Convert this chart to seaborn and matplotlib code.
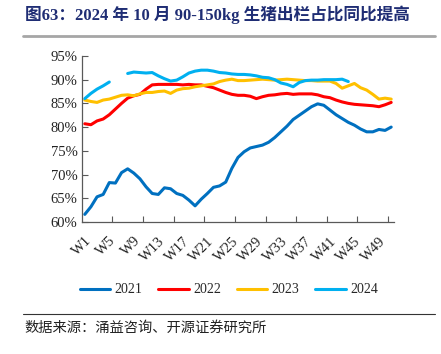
import numpy as np
import pandas as pd
import matplotlib
matplotlib.use("Agg")
import matplotlib.pyplot as plt
from matplotlib.lines import Line2D
import seaborn as sns

weeks = [f"W{i}" for i in range(1, 52)]
years = ["2021", "2022", "2023", "2024"]
colors = ["#0070C0", "#FF0000", "#FFC000", "#00B0F0"]

v2021 = [61.6, 63.2, 65.3, 65.8, 68.3, 68.2, 70.4, 71.2, 70.3, 69.1,
         67.4, 66.0, 65.8, 67.2, 67.0, 66.0, 65.6, 64.6, 63.4, 64.8,
         66.0, 67.3, 67.6, 68.4, 71.3, 73.6, 74.8, 75.6, 75.9, 76.2,
         76.8, 77.8, 79.0, 80.2, 81.6, 82.5, 83.4, 84.3, 84.9, 84.6,
         83.6, 82.6, 81.8, 81.0, 80.4, 79.6, 79.0, 79.0, 79.5, 79.3, 80.0]
v2022 = [80.7, 80.5, 81.3, 81.7, 82.6, 83.8, 85.0, 86.1, 86.6, 86.9,
         88.0, 88.9, 89.0, 89.0, 89.0, 89.0, 88.9, 89.0, 88.9, 88.9,
         88.6, 88.3, 87.8, 87.3, 86.9, 86.7, 86.7, 86.5, 86.0, 86.4,
         86.7, 86.8, 87.0, 87.1, 86.9, 87.0, 87.0, 87.0, 86.8, 86.4,
         86.2, 85.7, 85.3, 85.0, 84.8, 84.7, 84.6, 84.5, 84.3, 84.7, 85.2]
v2023 = [85.7, 85.4, 85.2, 85.7, 85.9, 86.3, 86.7, 86.8, 86.6, 87.0,
         87.3, 87.3, 87.5, 87.6, 87.1, 87.8, 88.1, 88.2, 88.5, 88.7,
         88.9, 89.1, 89.6, 89.9, 90.1, 89.8, 89.8, 89.9, 90.0, 90.1,
         90.0, 89.9, 90.0, 90.1, 90.0, 89.9, 89.8, 89.8, 89.7, 89.7,
         89.7, 89.2, 88.2, 88.7, 89.2, 88.3, 87.8, 86.9, 85.9, 86.1, 85.9]
v2024 = [86.0, 87.1, 88.0, 88.7, 89.5, np.nan, np.nan, 91.3, 91.6, 91.5,
         91.4, 91.5, 90.8, 90.2, 89.7, 89.9, 90.6, 91.4, 91.8, 92.0,
         92.0, 91.8, 91.5, 91.4, 91.2, 91.1, 91.1, 91.0, 90.8, 90.5,
         90.4, 90.0, 89.3, 89.0, 88.5, 89.4, 89.8, 89.9, 89.9, 90.0,
         90.0, 90.0, 90.1, 89.6] + [np.nan] * 7

rows = []
for yr, vals in zip(years, [v2021, v2022, v2023, v2024]):
    seg = 0
    for i, v in enumerate(vals):
        if np.isnan(v):
            seg += 1
            continue
        rows.append({"idx": i, "val": v, "year": yr, "seg": f"{yr}-{seg}"})
df = pd.DataFrame(rows)

sns.set_theme(style="white")
plt.rcParams["font.family"] = ["Liberation Serif", "Noto Sans CJK SC"]

fig = plt.figure(figsize=(4.41, 3.54), dpi=100)
ax = fig.add_axes([0.1853, 0.373, 0.894 - 0.1853, 0.842 - 0.373])

sns.lineplot(data=df, x="idx", y="val", hue="year", units="seg",
             estimator=None, palette=dict(zip(years, colors)),
             linewidth=2.2, legend=False, ax=ax, sort=True)

n = len(weeks)
ax.set_xlim(-0.5, n - 0.5)
ax.set_ylim(60, 95)
ax.set_yticks(np.arange(60, 96, 5))
ax.set_yticklabels([f"{t}%" for t in range(60, 96, 5)], fontsize=10.5,
                   color="#222222")
ax.set_xticks(np.arange(0, n, 4))
ax.set_xticklabels(weeks[::4], rotation=45, ha="right",
                   rotation_mode="anchor", fontsize=10.5, color="#222222")
ax.set_xticks(np.arange(4.5, n - 0.5, 5), minor=True)
ax.tick_params(axis="x", which="major", length=0, pad=9)
ax.tick_params(axis="x", which="minor", length=4, direction="in",
               color="#595959", width=0.8, bottom=True)
ax.tick_params(axis="y", which="major", length=4, direction="in",
               color="#595959", width=0.8, left=True, pad=3)
ax.set_xlabel("")
ax.set_ylabel("")
for s in ["top", "right"]:
    ax.spines[s].set_visible(False)
for s in ["left", "bottom"]:
    ax.spines[s].set_color("#595959")
    ax.spines[s].set_linewidth(0.9)

handles = [Line2D([0], [0], color=c, lw=2.2) for c in colors]
fig.legend(handles, years, loc="center", bbox_to_anchor=(0.519, 0.181),
           ncol=4, frameon=False, fontsize=10, handlelength=2.2,
           handletextpad=0.3, columnspacing=1.15)

fig.text(25 / 441, 1 - 15 / 354, "图63：2024 年 10 月 90-150kg 生猪出栏占比同比提高",
         fontsize=12, fontweight="bold", color="#1F2D74",
         family=["Liberation Serif", "Noto Sans CJK SC"], va="center", ha="left")
fig.add_artist(Line2D([23 / 441, 435 / 441], [1 - 36 / 354] * 2,
                      color="#A6A6A6", lw=2.0, transform=fig.transFigure))
fig.add_artist(Line2D([23 / 441, 435 / 441], [1 - 314 / 354] * 2,
                      color="#333333", lw=0.8, transform=fig.transFigure))
fig.text(24 / 441, 1 - 328 / 354, "数据来源：涌益咨询、开源证券研究所",
         fontsize=10.3, color="#222222", family=["Noto Sans CJK SC"],
         va="center", ha="left")

fig.savefig("out.png", dpi=100)
